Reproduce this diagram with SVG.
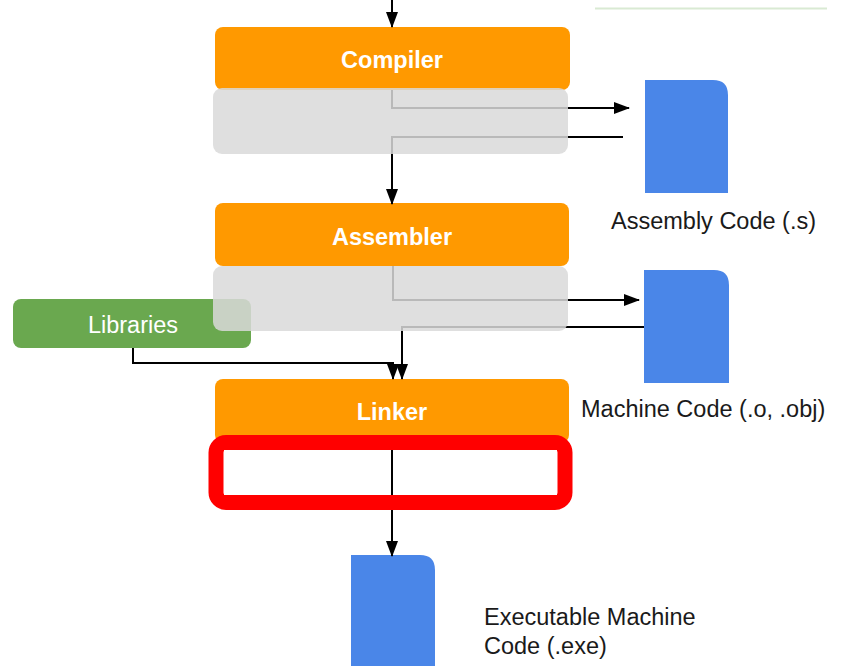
<svg xmlns="http://www.w3.org/2000/svg" width="842" height="666" viewBox="0 0 842 666">
  <style>
    .stage { fill: #ff9900; }
    .panel { fill: #d9d9d9; opacity: 0.85; }
    .doc { fill: #4a86e8; }
    .stage-label { font-family: "Liberation Sans", Arial, sans-serif; font-size: 23.5px; font-weight: bold; fill: #ffffff; text-anchor: middle; }
    .lib-label { font-family: "Liberation Sans", Arial, sans-serif; font-size: 23.5px; fill: #ffffff; text-anchor: middle; }
    .caption { font-family: "Liberation Sans", Arial, sans-serif; font-size: 23.5px; fill: #1a1a1a; }
    .wire { fill: none; stroke: #000000; stroke-width: 2; }
  </style>
  <defs>
    <marker id="arrow" markerUnits="userSpaceOnUse" markerWidth="16" markerHeight="12" refX="15" refY="6" orient="auto">
      <path d="M0,0 L16,6 L0,12 Z" fill="#000000"/>
    </marker>
  </defs>

  <rect width="842" height="666" fill="#ffffff"/>

  <!-- faint rule at the top right -->
  <line x1="595" y1="8.5" x2="827" y2="8.5" stroke="#d9ead3" stroke-width="2"/>

  <!-- stage boxes -->
  <g id="compiler">
    <rect class="stage" x="215" y="27" width="355" height="63" rx="8"/>
    <text class="stage-label" x="392" y="68">Compiler</text>
  </g>
  <g id="assembler">
    <rect class="stage" x="215" y="203" width="354" height="63" rx="8"/>
    <text class="stage-label" x="392" y="245">Assembler</text>
  </g>
  <g id="linker">
    <rect class="stage" x="215" y="379" width="354" height="64" rx="8"/>
    <text class="stage-label" x="392" y="420">Linker</text>
  </g>

  <!-- output files -->
  <g id="assembly-code">
    <path class="doc" d="M645,80 H713 Q728,80 728,95 V193 H645 Z"/>
    <text class="caption" x="611" y="229">Assembly Code (.s)</text>
  </g>
  <g id="machine-code">
    <path class="doc" d="M644,270 H714 Q729,270 729,285 V383 H644 Z"/>
    <text class="caption" x="581" y="417">Machine Code (.o, .obj)</text>
  </g>
  <g id="executable">
    <path class="doc" d="M351,555 H420 Q435,555 435,570 V666 H351 Z"/>
    <text class="caption" x="484" y="625">Executable Machine</text>
    <text class="caption" x="484" y="654">Code (.exe)</text>
  </g>

  <g id="libraries">
    <rect x="13" y="299" width="238" height="49" rx="8" fill="#6aa84f"/>
    <text class="lib-label" x="133" y="333">Libraries</text>
  </g>

  <!-- connectors -->
  <g id="connectors">
    <path class="wire" d="M392,0 V27" marker-end="url(#arrow)"/>
    <path class="wire" d="M392,90 V108 H629" marker-end="url(#arrow)"/>
    <path class="wire" d="M623,137 H392 V204" marker-end="url(#arrow)"/>
    <path class="wire" d="M393,266 V300 H639" marker-end="url(#arrow)"/>
    <path class="wire" d="M644,327 H402 V379" marker-end="url(#arrow)"/>
    <path class="wire" d="M133,348 V363 H393 V379" marker-end="url(#arrow)"/>
    <path class="wire" d="M392,450 V556" marker-end="url(#arrow)"/>
  </g>

  <!-- translucent detail panels under the stages -->
  <g id="compiler-panel">
    <rect class="panel" x="213" y="88" width="355" height="66" rx="9"/>
  </g>
  <g id="assembler-panel">
    <rect class="panel" x="213" y="266" width="355" height="65" rx="9"/>
  </g>

  <!-- highlighted linker output -->
  <g id="linker-highlight">
    <rect x="216" y="442.5" width="349" height="60" rx="10" fill="none" stroke="#ff0000" stroke-width="15"/>
    <rect x="224" y="450" width="333" height="45" fill="#ffffff"/>
    <line x1="392" y1="450" x2="392" y2="495" stroke="#000000" stroke-width="2"/>
  </g>
</svg>
